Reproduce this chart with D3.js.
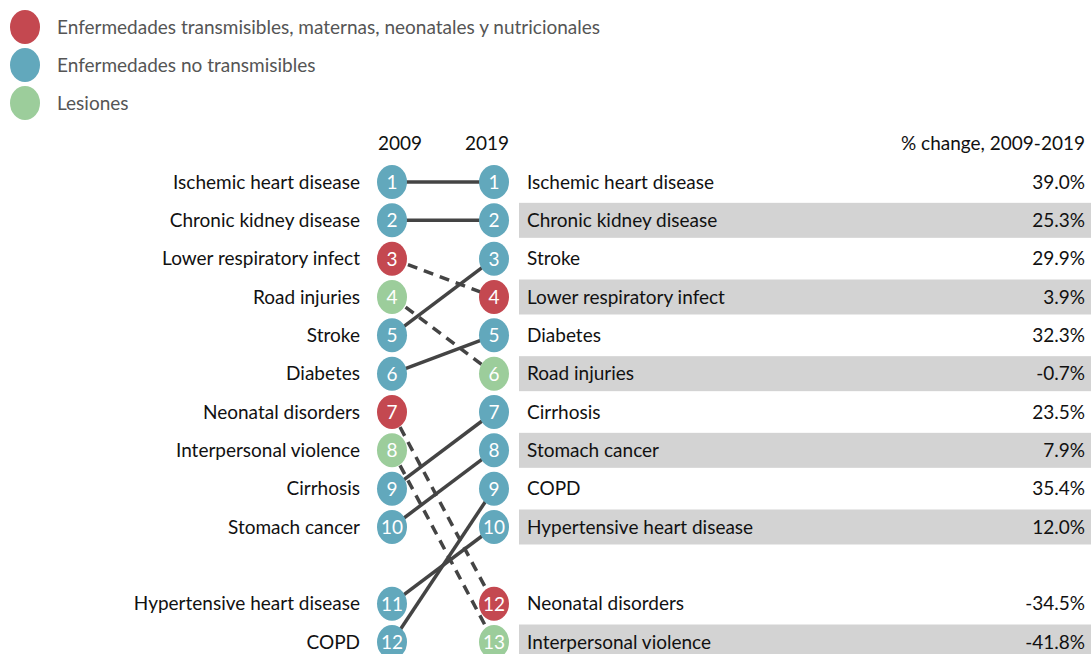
<!DOCTYPE html>
<html>
<head>
<meta charset="utf-8">
<script src="https://cdn.jsdelivr.net/npm/d3@7"></script>
<style>
body{
  margin:0;
  padding:0;
  overflow:hidden;
  background:white;
  font-family: 'Lato', 'Noto Sans', sans-serif;
}
</style>
</head>
<body>
<div id="chart"></div>
<script>
// ===== data =====
const causes = ["Ischemic heart disease","Chronic kidney disease","Lower respiratory infect","Road injuries","Stroke","Diabetes","Neonatal disorders","Interpersonal violence","Cirrhosis","Stomach cancer","Hypertensive heart disease","COPD"];
const groups = ["ncd","ncd","cmnn","inj","ncd","ncd","cmnn","inj","ncd","ncd","ncd","ncd"];
const rank2009 = [1,2,3,4,5,6,7,8,9,10,11,12];
const rank2019 = [1,2,4,6,3,5,12,13,7,8,10,9];
const pctChange = [39.0,25.3,3.9,-0.7,29.9,32.3,-34.5,-41.8,23.5,7.9,12.0,35.4];

const legendKeys = ["cmnn","ncd","inj"];
const legendLabels = ["Enfermedades transmisibles, maternas, neonatales y nutricionales","Enfermedades no transmisibles","Lesiones"];
const legendColors = ["#c44850","#62a8bc","#9ccd9b"];

// ===== svg =====
const width = 1091, height = 654;
const svg = d3.select("#chart").append("svg").attr("width", width).attr("height", height);

const color = d3.scaleOrdinal().domain(legendKeys).range(legendColors);

// slot 11 on the left is left empty (row gap)
const slotLeft = r => r > 10 ? r + 1 : r;
const slotRight = r => r;
const y = d3.scaleLinear().domain([1, 13]).range([182, 642]);
const xLeft = 392, xRight = 494;

const rows = causes.map((c, i) => ({
  name: c, group: groups[i], r09: rank2009[i], r19: rank2019[i], pct: pctChange[i]
}));

// ----- legend -----
const legend = svg.append("g");
legendKeys.forEach((k, i) => {
  const cy = 27 + i * 38;
  legend.append("ellipse").attr("cx", 25).attr("cy", cy).attr("rx", 15).attr("ry", 17).attr("fill", color(k));
  legend.append("text").attr("x", 57).attr("y", cy).attr("dy", "0.35em")
    .attr("font-size", 19).attr("fill", "#555").text(legendLabels[i]);
});

// ----- headers -----
svg.append("text").attr("x", 400).attr("y", 143).attr("dy","0.35em").attr("text-anchor","middle")
  .attr("font-size", 19).attr("fill","#111").text("2009");
svg.append("text").attr("x", 487).attr("y", 143).attr("dy","0.35em").attr("text-anchor","middle")
  .attr("font-size", 19).attr("fill","#111").text("2019");
svg.append("text").attr("x", 1085).attr("y", 143).attr("dy","0.35em").attr("text-anchor","end")
  .attr("font-size", 19).attr("fill","#111").text("% change, 2009-2019");

// ----- right side bands (alternate rows of 2019 ranking) -----
const right = rows.slice().sort((a, b) => a.r19 - b.r19);
right.forEach((d, i) => {
  if (i % 2 === 1) {
    svg.append("rect").attr("x", 519).attr("y", y(slotRight(d.r19)) - 17.5)
      .attr("width", width - 519).attr("height", 35).attr("fill", "#d3d3d3");
  }
});

// ----- connecting lines -----
svg.append("g").selectAll("line").data(rows).join("line")
  .attr("x1", xLeft).attr("y1", d => y(slotLeft(d.r09)))
  .attr("x2", xRight).attr("y2", d => y(slotRight(d.r19)))
  .attr("stroke", "#444").attr("stroke-width", 3.5)
  .attr("stroke-dasharray", d => d.group === "ncd" ? null : "10,7");

// ----- circles -----
const drawNodes = (xPos, rankKey, slotFn) => {
  const g = svg.append("g").selectAll("g").data(rows).join("g")
    .attr("transform", d => `translate(${xPos},${y(slotFn(d[rankKey]))})`);
  g.append("ellipse").attr("rx", 15).attr("ry", 17).attr("fill", d => color(d.group));
  g.append("text").attr("text-anchor","middle").attr("dy","0.36em")
    .attr("font-size", 19).attr("fill","white").text(d => d[rankKey]);
};
drawNodes(xLeft, "r09", slotLeft);
drawNodes(xRight, "r19", slotRight);

// ----- labels -----
svg.append("g").selectAll("text").data(rows).join("text")
  .attr("x", 360).attr("y", d => y(slotLeft(d.r09))).attr("dy","0.35em")
  .attr("text-anchor","end").attr("font-size", 19).attr("fill","#111").text(d => d.name);

svg.append("g").selectAll("text").data(rows).join("text")
  .attr("x", 527).attr("y", d => y(slotRight(d.r19))).attr("dy","0.35em")
  .attr("font-size", 19).attr("fill","#111").text(d => d.name);

svg.append("g").selectAll("text").data(rows).join("text")
  .attr("x", 1085).attr("y", d => y(slotRight(d.r19))).attr("dy","0.35em")
  .attr("text-anchor","end").attr("font-size", 19).attr("fill","#111")
  .text(d => d.pct.toFixed(1) + "%");
</script>
</body>
</html>
